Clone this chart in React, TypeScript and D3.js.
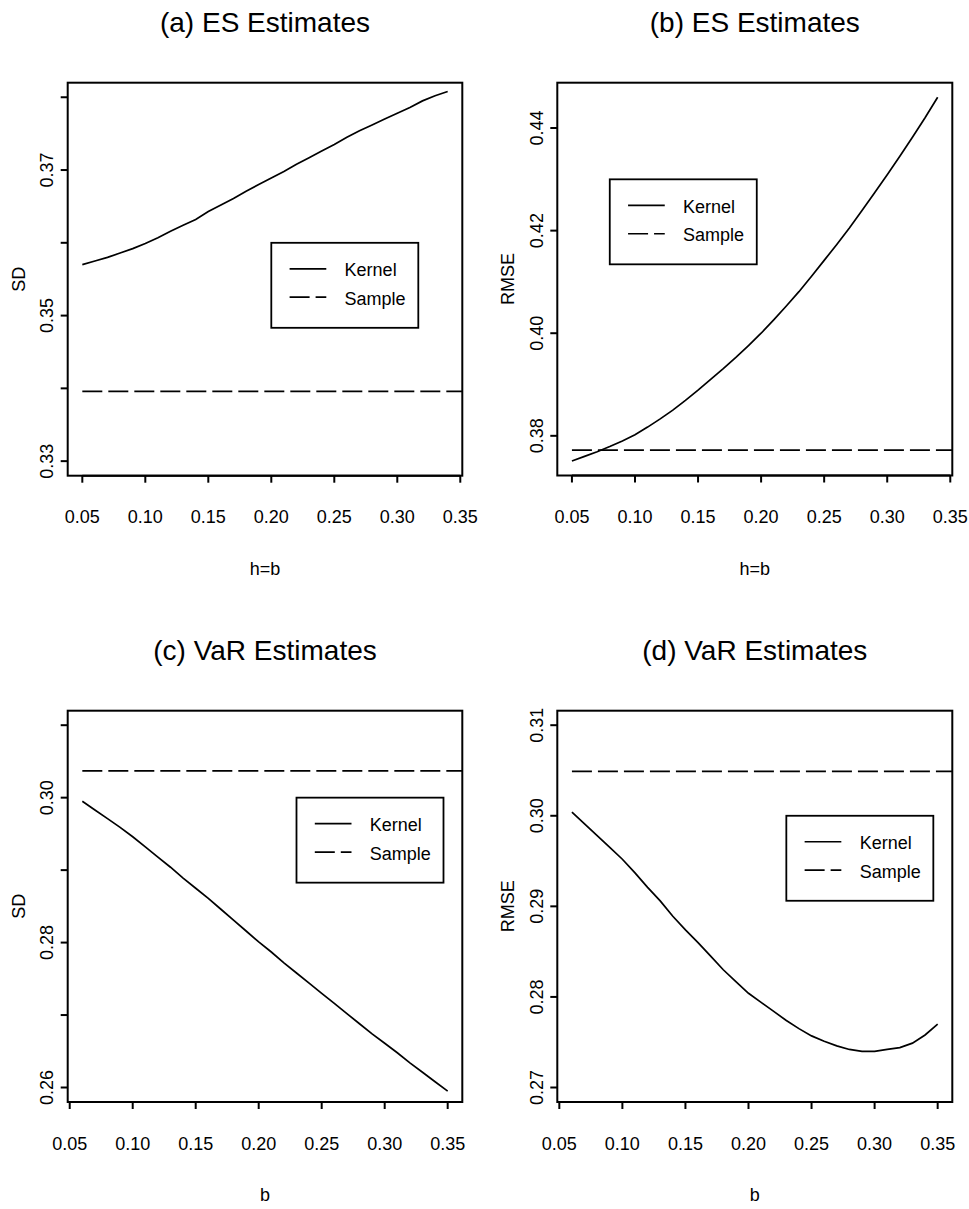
import React from 'react';
import * as d3 from 'd3';

// bandwidths
const hES = [0.05, 0.06, 0.07, 0.08, 0.09, 0.10, 0.11, 0.12, 0.13, 0.14, 0.15, 0.16, 0.17, 0.18, 0.19,
  0.20, 0.21, 0.22, 0.23, 0.24, 0.25, 0.26, 0.27, 0.28, 0.29, 0.30, 0.31, 0.32, 0.33, 0.34];
const bVaR = [0.06, 0.07, 0.08, 0.09, 0.10, 0.11, 0.12, 0.13, 0.14, 0.15, 0.16, 0.17, 0.18, 0.19, 0.20,
  0.21, 0.22, 0.23, 0.24, 0.25, 0.26, 0.27, 0.28, 0.29, 0.30, 0.31, 0.32, 0.33, 0.34, 0.35];

// kernel estimates
const sdES = [0.3570, 0.3575, 0.3580, 0.3586, 0.3592, 0.3599, 0.3607, 0.3616, 0.3624, 0.3632,
  0.3643, 0.3652, 0.3661, 0.3671, 0.3680, 0.3689, 0.3698, 0.3708, 0.3717, 0.3726,
  0.3735, 0.3745, 0.3754, 0.3762, 0.3770, 0.3778, 0.3786, 0.3795, 0.3802, 0.3808];
const rmseES = [0.3751, 0.3760, 0.3769, 0.3779, 0.3790, 0.3802, 0.3817, 0.3833, 0.3850, 0.3869,
  0.3889, 0.3910, 0.3931, 0.3953, 0.3976, 0.4000, 0.4026, 0.4053, 0.4081, 0.4111,
  0.4142, 0.4173, 0.4205, 0.4239, 0.4274, 0.4309, 0.4345, 0.4382, 0.4420, 0.4460];
const sdVaR = [0.2995, 0.2983, 0.2971, 0.2959, 0.2946, 0.2932, 0.2918, 0.2904, 0.2889, 0.2875,
  0.2861, 0.2846, 0.2831, 0.2816, 0.2801, 0.2787, 0.2772, 0.2758, 0.2744, 0.2730,
  0.2716, 0.2702, 0.2688, 0.2674, 0.2661, 0.2648, 0.2634, 0.2621, 0.2608, 0.2595];
const rmseVaR = [0.3004, 0.2991, 0.2978, 0.2965, 0.2952, 0.2937, 0.2921, 0.2906, 0.2889, 0.2874,
  0.2860, 0.2845, 0.2830, 0.2817, 0.2804, 0.2794, 0.2784, 0.2774, 0.2765, 0.2757,
  0.2751, 0.2746, 0.2742, 0.2740, 0.2740, 0.2742, 0.2744, 0.2749, 0.2758, 0.2770];

// sample estimates
const sdESSample = 0.3396;
const rmseESSample = 0.3772;
const sdVaRSample = 0.3037;
const rmseVaRSample = 0.3049;

const xTicks = [0.05, 0.10, 0.15, 0.20, 0.25, 0.30, 0.35];
const legendLabels = ['Kernel', 'Sample'];

const FONT = 'Liberation Sans, Arial, Helvetica, sans-serif';

type Panel = {
  title: string; xlab: string; ylab: string;
  x: number[]; kernel: number[]; sample: number;
  ylim?: [number, number];
  yTicks: number[]; yLabels: number[];
  legendAt: [number, number];
  box: { l: number; t: number; r: number; b: number };
};

const panels: Panel[] = [
  {
    title: '(a) ES Estimates', xlab: 'h=b', ylab: 'SD', x: hES, kernel: sdES, sample: sdESSample,
    ylim: [0.33, 0.38], yTicks: [0.33, 0.34, 0.35, 0.36, 0.37, 0.38], yLabels: [0.33, 0.35, 0.37],
    legendAt: [0.20, 0.36], box: { l: 67.7, t: 82.7, r: 462.3, b: 475.7 },
  },
  {
    title: '(b) ES Estimates', xlab: 'h=b', ylab: 'RMSE', x: hES, kernel: rmseES, sample: rmseESSample,
    yTicks: [0.38, 0.40, 0.42, 0.44], yLabels: [0.38, 0.40, 0.42, 0.44],
    legendAt: [0.08, 0.43], box: { l: 557.3, t: 82.7, r: 952.3, b: 475.5 },
  },
  {
    title: '(c) VaR Estimates', xlab: 'b', ylab: 'SD', x: bVaR, kernel: sdVaR, sample: sdVaRSample,
    ylim: [0.26, 0.31], yTicks: [0.26, 0.27, 0.28, 0.29, 0.30, 0.31], yLabels: [0.26, 0.28, 0.30],
    legendAt: [0.23, 0.30], box: { l: 67.7, t: 710.7, r: 462.3, b: 1102 },
  },
  {
    title: '(d) VaR Estimates', xlab: 'b', ylab: 'RMSE', x: bVaR, kernel: rmseVaR, sample: rmseVaRSample,
    ylim: [0.27, 0.31], yTicks: [0.27, 0.28, 0.29, 0.30, 0.31], yLabels: [0.27, 0.28, 0.29, 0.30, 0.31],
    legendAt: [0.23, 0.30], box: { l: 557.3, t: 710.7, r: 952.3, b: 1102 },
  },
];

// R-style 4% range extension
const extend = ([a, b]: [number, number]): [number, number] => {
  const d = (b - a) * 0.04;
  return [a - d, b + d];
};

const PlotPanel = ({ p, idx }: { p: Panel; idx: number }) => {
  const { l, t, r, b } = p.box;
  const xr = d3.extent(p.x) as [number, number];
  const yr = p.ylim ?? (d3.extent([...p.kernel, p.sample]) as [number, number]);
  const x = d3.scaleLinear().domain(extend(xr)).range([l, r]);
  const y = d3.scaleLinear().domain(extend(yr)).range([b, t]);
  const line = d3.line<[number, number]>().x(d => x(d[0])).y(d => y(d[1]));
  const kernelPts = p.x.map((v, i) => [v, p.kernel[i]] as [number, number]);
  const samplePts: [number, number][] = [[p.x[0], p.sample], [x.domain()[1], p.sample]];
  const fmt = d3.format('.2f');
  const cx = (l + r) / 2;
  const cy = (t + b) / 2;
  const lx = x(p.legendAt[0]);
  const ly = y(p.legendAt[1]);
  const clipId = `clip${idx}`;

  return (
    <g>
      <defs>
        <clipPath id={clipId}><rect x={l} y={t} width={r - l} height={b - t} /></clipPath>
      </defs>
      <text x={cx} y={t - 50.7} textAnchor="middle" fontSize={28} fontFamily={FONT}>{p.title}</text>
      <g clipPath={`url(#${clipId})`}>
        <path d={line(kernelPts) ?? ''} fill="none" stroke="#000" strokeWidth={1.7} />
        <path d={line(samplePts) ?? ''} fill="none" stroke="#000" strokeWidth={1.7} strokeDasharray="20 6" />
      </g>
      <rect x={l} y={t} width={r - l} height={b - t} fill="none" stroke="#000" strokeWidth={2} />
      {/* x axis */}
      <line x1={x(xTicks[0])} x2={x(xTicks[xTicks.length - 1])} y1={b} y2={b} stroke="#000" strokeWidth={2} />
      {xTicks.map(v => (
        <g key={v}>
          <line x1={x(v)} x2={x(v)} y1={b} y2={b + 7} stroke="#000" strokeWidth={2} />
          <text x={x(v)} y={b + 47.6} textAnchor="middle" fontSize={18} fontFamily={FONT}>{fmt(v)}</text>
        </g>
      ))}
      <text x={cx} y={b + 99} textAnchor="middle" fontSize={18} fontFamily={FONT}>{p.xlab}</text>
      {/* y axis */}
      {p.yTicks.map(v => (
        <line key={v} x1={l - 7} x2={l} y1={y(v)} y2={y(v)} stroke="#000" strokeWidth={2} />
      ))}
      {p.yLabels.map(v => (
        <text key={v} transform={`translate(${l - 14.7},${y(v)}) rotate(-90)`} textAnchor="middle"
          fontSize={18} fontFamily={FONT}>{fmt(v)}</text>
      ))}
      <text transform={`translate(${l - 43},${cy}) rotate(-90)`} textAnchor="middle" fontSize={18}
        fontFamily={FONT}>{p.ylab}</text>
      {/* legend */}
      <rect x={lx} y={ly} width={147} height={85} fill="#fff" stroke="#000" strokeWidth={1.8} />
      {legendLabels.map((lab, i) => {
        const ry = ly + 26 + i * 28.4;
        return (
          <g key={lab}>
            <line x1={lx + 18.3} x2={lx + 55} y1={ry} y2={ry} stroke="#000" strokeWidth={1.7}
              strokeDasharray={i === 1 ? '20 6' : undefined} />
            <text x={lx + 73.3} y={ry + 7.5} fontSize={18} fontFamily={FONT}>{lab}</text>
          </g>
        );
      })}
    </g>
  );
};

export default function App() {
  return (
    <div style={{ position: 'absolute', left: 0, top: 0 }}>
      <svg width={969} height={1209} style={{ display: 'block', background: '#fff' }}>
        <rect width={969} height={1209} fill="#fff" />
        {panels.map((p, i) => <PlotPanel key={p.title} p={p} idx={i} />)}
      </svg>
    </div>
  );
}
